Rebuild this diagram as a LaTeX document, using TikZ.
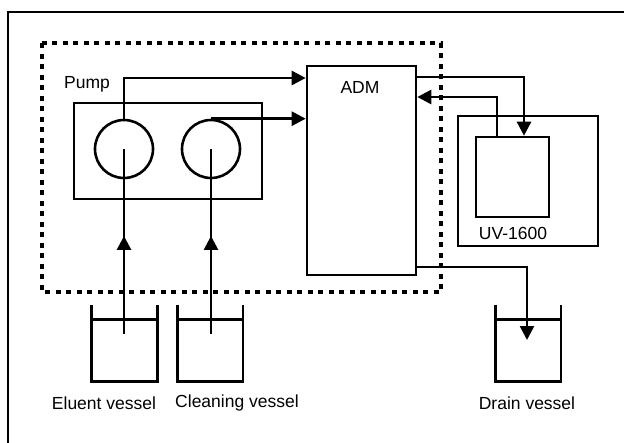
\documentclass[tikz,border=0pt]{standalone}
\usepackage{fontspec}
\setmainfont{Liberation Sans}
\usetikzlibrary{arrows.meta,decorations.markings}
\begin{document}
\begin{tikzpicture}[x=1pt,y=-1pt,line width=2.6pt,
  txt/.style={font=\fontsize{17.5}{20}\selectfont,inner sep=0pt},
  box/.style={draw,line width=2.6pt,inner sep=0pt,minimum width=#1},
  pumphead/.style={draw,circle,line width=2.6pt,inner sep=0pt,minimum size=58pt},
  vessel/.style={inner sep=0pt,minimum width=63pt,minimum height=74pt},
  tip/.style={-{Triangle[length=14pt,width=14pt]}},
  midarrow/.style={postaction={decorate},decoration={markings,
     mark=at position #1 with {\arrow{Triangle[length=14pt,width=14pt]}}}},
  zone/.style={draw,line width=4.5pt,dash pattern=on 5pt off 5.5pt},
  frame/.style={draw,line width=1.4pt}]
\useasboundingbox (0,0) rectangle (624,442);
\clip (0,0) rectangle (624,442);
% outer frame
\draw[frame] (8,12) rectangle (640,460);
% dotted zone
\draw[zone] (42,43) rectangle (441,292);
% pump
\node[box=188pt,minimum height=96pt] (pump) at (168,151) {};
\node[pumphead] (c1) at (124,149) {};
\node[pumphead] (c2) at (211,149) {};
\node[txt] (pumplbl) at (87,84) {Pump};
% ADM
\node[box=109pt,minimum height=209pt] (adm) at (361.5,170.5) {};
\node[txt] (admlbl) at (360,87) {ADM};
% UV
\node[box=140pt,minimum height=130pt] (uvout) at (528,181) {};
\node[box=73pt,minimum height=80pt] (uvin) at (512.5,177) {};
\node[txt] (uvlbl) at (513,233) {UV-1600};
% vessels
\foreach \n/\x in {ev/124.5, cv/210, dv/528}{
  \node[vessel] (\n) at (\x,343) {};
  \draw (\n.north west) -- (\n.south west) -- (\n.south east) -- (\n.north east);
  \draw ([yshift=-15pt]\n.north west) -- ([yshift=-15pt]\n.north east);
}
\node[txt] (evlbl) at (104,403) {Eluent vessel};
\node[txt] (cvlbl) at (237,403) {Cleaning vessel};
\node[txt] (dvlbl) at (527,403) {Drain vessel};
% connectors
\coordinate (e1) at (124,334);
\coordinate (e2) at (211,334);
\draw[midarrow=0.53] (e1) -- (c1.center);
\draw[midarrow=0.53] (e2) -- (c2.center);
\coordinate (p1) at (124,78);
\draw[tip] (c1.north) -- (p1) -- (p1 -| adm.west);
\draw[tip] (c2.north) -- (c2.north -| adm.west);
\coordinate (q1) at (524,77);
\draw[tip] (adm.east |- q1) -- (q1) -- (q1 |- uvin.north);
\coordinate (q2) at (497,97);
\draw[tip] (q2 |- uvin.north) -- (q2) -- (q2 -| adm.east);
\coordinate (q3) at (527,267);
\coordinate (dtip) at (527,340);
\draw[tip] (adm.east |- q3) -- (q3) -- (dtip);
\end{tikzpicture}
\end{document}
